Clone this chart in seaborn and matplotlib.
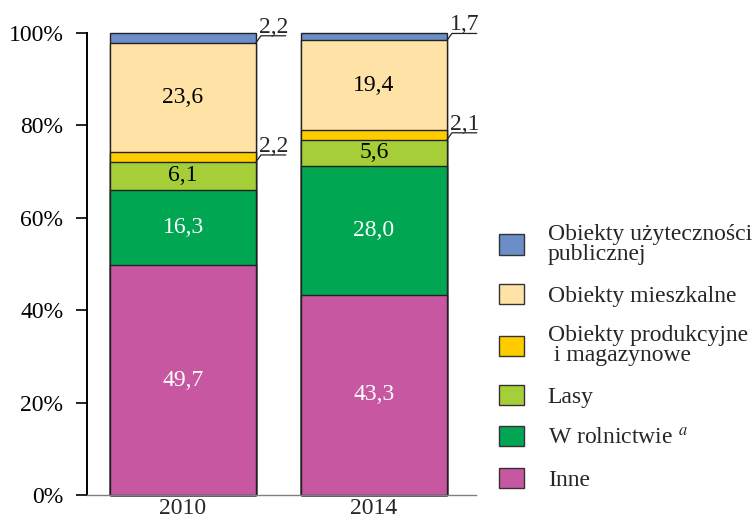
import numpy as np
import matplotlib
matplotlib.use("Agg")
import matplotlib.pyplot as plt
import seaborn as sns
from matplotlib.patches import Patch

# data (percent shares)
years = ["2010", "2014"]
categories = ["Inne", "W rolnictwie $^{\\mathit{a}}$", "Lasy",
              "Obiekty produkcyjne\n i magazynowe", "Obiekty mieszkalne",
              "Obiekty użyteczności\npublicznej"]
inne = [49.7, 43.3]
rolnictwo = [16.3, 28.0]
lasy = [6.1, 5.6]
produkcyjne = [2.2, 2.1]
mieszkalne = [23.6, 19.4]
uzytecznosci = [2.2, 1.7]

colors = ["#C657A0", "#00A651", "#A6CE39", "#FFCC00", "#FFE3A6", "#6B8DC8"]
text_colors = ["white", "white", "black", None, "black", None]  # None -> label outside

sns.set_style("ticks")
plt.rcParams["font.family"] = ["Liberation Serif", "DejaVu Serif"]
plt.rcParams["mathtext.fontset"] = "stix"

values = np.array([inne, rolnictwo, lasy, produkcyjne, mieszkalne, uzytecznosci])
tops = values.cumsum(axis=0)
bottoms = tops - values

fig = plt.figure(figsize=(7.55, 5.21), dpi=100)
ax = fig.add_axes([87 / 755, 1 - 495 / 521, (476 - 87) / 755, (495 - 33) / 521])

width = 0.764
# draw cumulative bars from the top segment down so they stack visually
for i in range(len(categories) - 1, -1, -1):
    sns.barplot(x=years, y=tops[i], color=colors[i], width=width,
                edgecolor="#222222", linewidth=1.0, saturation=1, ax=ax,
                clip_on=False)

fs = 17
for i in range(len(categories)):
    for j in range(len(years)):
        v = values[i, j]
        lab = f"{v:.1f}".replace(".", ",")
        if text_colors[i] is not None:
            ax.text(j, bottoms[i, j] + v / 2, lab, ha="center", va="center",
                    color=text_colors[i], fontsize=fs)
        else:
            # small share: leader line from the segment bottom, label above
            x0 = j + width / 2
            y0 = bottoms[i, j]
            x1 = x0 + 0.026
            y1 = y0 + 1.5
            x2 = x1 + 0.13
            ax.plot([x0, x1, x2], [y0, y1, y1], color="#222222", lw=0.9,
                    clip_on=False)
            ax.text((x1 + x2) / 2, y1 + 0.7, lab, ha="center", va="baseline",
                    fontsize=fs)

ax.set_xlim(-0.503, 1.534)
ax.set_ylim(0, 100)
ax.set_yticks([0, 20, 40, 60, 80, 100])
ax.set_yticklabels([f"{t}%" for t in range(0, 101, 20)], fontsize=fs)
ax.tick_params(axis="y", length=8, width=1.2, pad=9, colors="black")
ax.tick_params(axis="x", length=0, pad=2.5, labelsize=fs)
ax.set_xlabel("")
ax.set_ylabel("")
sns.despine(ax=ax)
ax.spines["left"].set_linewidth(1.4)
ax.spines["left"].set_color("black")
ax.spines["bottom"].set_color("#808080")
ax.spines["bottom"].set_linewidth(1.0)

handles = [Patch(facecolor=colors[i], edgecolor="#333333", linewidth=1.0)
           for i in range(len(categories))][::-1]
leg = fig.legend(handles, categories[::-1], loc="upper left",
                 bbox_to_anchor=(499 / 755, 1 - 224 / 521), frameon=False,
                 fontsize=fs, handlelength=1.06, handleheight=0.93,
                 labelspacing=0.78, handletextpad=1.0, borderaxespad=0,
                 borderpad=0)
for t in leg.get_texts():
    t.set_linespacing(0.95)

fig.savefig("out.png", dpi=100)
